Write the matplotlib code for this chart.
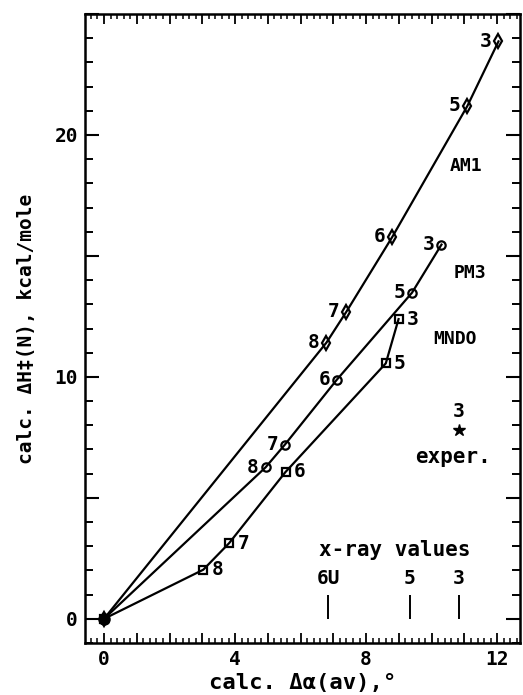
import matplotlib.pyplot as plt
from matplotlib.ticker import MultipleLocator, FuncFormatter

plt.rcParams['font.family'] = ['DejaVu Sans Mono', 'DejaVu Sans']
plt.rcParams['font.weight'] = 'bold'
plt.rcParams['axes.labelweight'] = 'bold'

# calculated curves (ring size labels at each point)
am1_x = [0, 6.79, 7.40, 8.80, 11.09, 12.04]
am1_y = [0, 11.42, 12.70, 15.79, 21.2, 23.87]
am1_lab = ['', '8', '7', '6', '5', '3']

pm3_x = [0, 4.93, 5.52, 7.11, 9.40, 10.30]
pm3_y = [0, 6.26, 7.20, 9.89, 13.48, 15.47]
pm3_lab = ['', '8', '7', '6', '5', '3']

mndo_x = [0, 3.03, 3.82, 5.54, 8.60, 8.99]
mndo_y = [0, 2.03, 3.13, 6.07, 10.56, 12.39]
mndo_lab = ['', '8', '7', '6', '5', '3']

exper_x = 10.83
exper_y = 7.79

xray_x = [6.84, 9.33, 10.82]
xray_lab = ['6U', '5', '3']

fig = plt.figure(figsize=(5.23, 6.95), dpi=100)
ax = fig.add_axes([0.1625, 0.0748, 0.832, 0.905])

lw = 1.6
ax.plot(am1_x, am1_y, color='black', lw=lw, marker='d', ms=7.5, mfc='none', mew=1.6)
ax.plot(pm3_x, pm3_y, color='black', lw=lw, marker='o', ms=6, mfc='none', mew=1.6)
ax.plot(mndo_x, mndo_y, color='black', lw=lw, marker='s', ms=6, mfc='none', mew=1.6)
ax.plot([0], [0], marker='o', ms=8, color='black')

fs = 14
for x, y, s in zip(am1_x, am1_y, am1_lab):
    ax.text(x - 0.2, y, s, fontsize=fs, ha='right', va='center')
for x, y, s in zip(pm3_x, pm3_y, pm3_lab):
    ax.text(x - 0.2, y, s, fontsize=fs, ha='right', va='center')
for x, y, s in zip(mndo_x, mndo_y, mndo_lab):
    ax.text(x + 0.25, y, s, fontsize=fs, ha='left', va='center')

ax.text(11.06, 18.7, 'AM1', fontsize=13, ha='center', va='center')
ax.text(11.16, 14.3, 'PM3', fontsize=13, ha='center', va='center')
ax.text(10.7, 11.56, 'MNDO', fontsize=13, ha='center', va='center')

ax.plot([exper_x], [exper_y], marker='*', ms=9, color='black', ls='none')
ax.text(exper_x, 8.55, '3', fontsize=fs, ha='center', va='center')
ax.text(10.65, 6.7, 'exper.', fontsize=15, ha='center', va='center')

ax.vlines(xray_x, 0, 1, color='black', lw=1.4)
for x, s in zip(xray_x, xray_lab):
    ax.text(x, 1.65, s, fontsize=fs, ha='center', va='center')
ax.text(8.87, 2.85, 'x-ray values', fontsize=15, ha='center', va='center')

ax.set_xlim(-0.58, 12.7)
ax.set_ylim(-1, 25)

ax.xaxis.set_major_locator(MultipleLocator(1))
ax.xaxis.set_minor_locator(MultipleLocator(0.2))
ax.xaxis.set_major_formatter(FuncFormatter(lambda v, p: '%d' % v if round(v) % 4 == 0 else ''))
ax.yaxis.set_major_locator(MultipleLocator(5))
ax.yaxis.set_minor_locator(MultipleLocator(1))
ax.yaxis.set_major_formatter(FuncFormatter(lambda v, p: '%d' % v if round(v) % 10 == 0 else ''))

ax.tick_params(axis='x', which='major', direction='in', length=7, width=1.3, top=True, labelsize=fs, pad=5)
ax.tick_params(axis='x', which='minor', direction='in', length=3.5, width=1.1, top=True)
ax.tick_params(axis='y', which='major', direction='in', length=10, width=1.5, right=True, labelsize=fs, pad=5)
ax.tick_params(axis='y', which='minor', direction='in', length=6, width=1.4, right=True)
for sp in ax.spines.values():
    sp.set_linewidth(1.8)

ax.set_xlabel('calc. Δα(av),°', fontsize=16, labelpad=3)
ax.set_ylabel('calc. ΔH‡(N), kcal/mole', fontsize=fs, labelpad=13)

fig.savefig('out.png', dpi=100)
